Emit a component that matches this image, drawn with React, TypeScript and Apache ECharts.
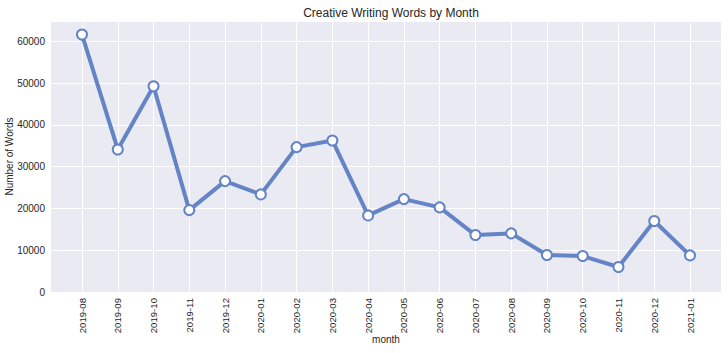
import React, { useEffect, useRef } from "react";
import * as echarts from "echarts";

const months = [
  "2019-08", "2019-09", "2019-10", "2019-11", "2019-12", "2020-01",
  "2020-02", "2020-03", "2020-04", "2020-05", "2020-06", "2020-07",
  "2020-08", "2020-09", "2020-10", "2020-11", "2020-12", "2021-01",
];
const words = [
  61650, 34140, 49280, 19620, 26560, 23370,
  34690, 36290, 18340, 22250, 20260, 13640,
  14040, 8850, 8610, 5980, 16990, 8770,
];
const yTicks = [0, 10000, 20000, 30000, 40000, 50000, 60000];
const yMax = 64900;

export default function App() {
  const ref = useRef<HTMLDivElement>(null);
  useEffect(() => {
    if (!ref.current) return;
    const chart = echarts.init(ref.current, undefined, { renderer: "svg" });
    const font = "'Liberation Sans', Arial, sans-serif";
    chart.setOption({
      animation: false,
      title: {
        text: "Creative Writing Words by Month",
        left: 386,
        textAlign: "center",
        top: 2,
        textStyle: { fontFamily: font, fontSize: 12, fontWeight: "normal", color: "#262626" },
      },
      grid: [
        {
          left: 51, right: 7, top: 21, bottom: 61,
          show: true, backgroundColor: "#EAEAF2", borderWidth: 0,
          outerBoundsMode: "none", containLabel: false,
        },
        {
          left: 82, right: 38, top: 21, bottom: 61,
          outerBoundsMode: "none", containLabel: false,
        },
      ],
      xAxis: [
        { gridIndex: 0, type: "value", min: 0, max: 1, show: false },
        {
          gridIndex: 1,
          type: "category",
          data: months,
          boundaryGap: false,
          name: "month",
          nameLocation: "middle",
          nameGap: 42,
          nameMoveOverlap: false,
          nameTextStyle: { fontFamily: font, fontSize: 10, color: "#262626" },
          axisLine: { show: false },
          axisTick: { show: false },
          axisLabel: {
            rotate: 90,
            interval: 0,
            margin: 6,
            fontFamily: font,
            fontSize: 9.6,
            color: "#262626",
          },
          splitLine: { show: true, lineStyle: { color: "#ffffff", width: 1 } },
        },
      ],
      yAxis: [
        {
          gridIndex: 0,
          type: "value",
          min: 0,
          max: yMax,
          interval: 10000,
          name: "Number of Words",
          nameLocation: "middle",
          nameGap: 37,
          nameMoveOverlap: false,
          nameTextStyle: { fontFamily: font, fontSize: 10, color: "#262626" },
          axisLine: { show: false },
          axisTick: { show: false },
          axisLabel: {
            fontFamily: font,
            fontSize: 10,
            color: "#262626",
            margin: 6,
            showMaxLabel: false,
            formatter: (v: number) => (yTicks.includes(v) ? String(v) : ""),
          },
          splitLine: { show: true, lineStyle: { color: "#ffffff", width: 1 } },
        },
        { gridIndex: 1, type: "value", min: 0, max: yMax, show: false },
      ],
      series: [
        {
          type: "line",
          xAxisIndex: 1,
          yAxisIndex: 1,
          data: words,
          symbol: "circle",
          symbolSize: 10,
          lineStyle: { color: "#6584C5", width: 4 },
          itemStyle: { color: "#ffffff", borderColor: "#6584C5", borderWidth: 2 },
          z: 5,
        },
      ],
    });
    return () => chart.dispose();
  }, []);
  return (
    <div
      ref={ref}
      style={{ position: "absolute", left: 0, top: 0, width: 728, height: 353 }}
    />
  );
}
